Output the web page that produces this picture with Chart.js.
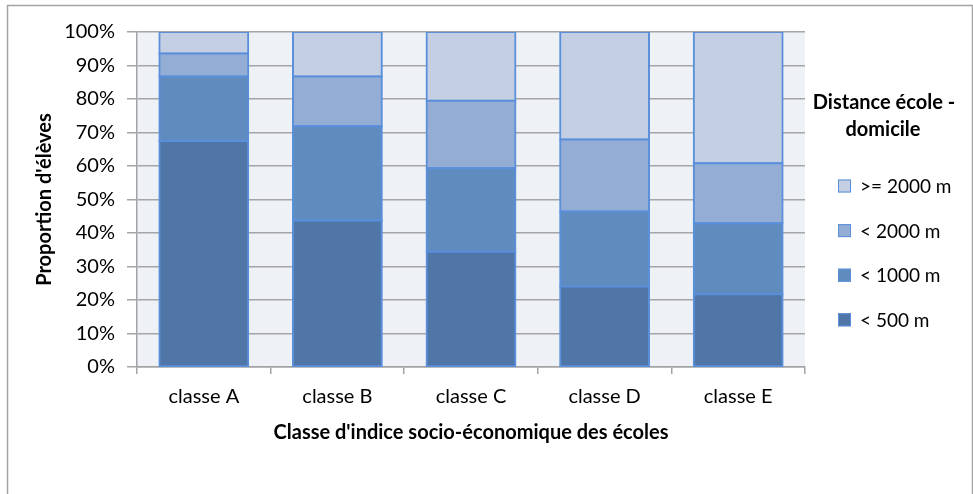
<!doctype html>
<html lang="fr">
  <head>
    <meta charset="UTF-8" />
    <title>Distance école - domicile</title>
    <script src="https://cdn.jsdelivr.net/npm/chart.js"></script>
    <style>
      html, body { margin: 0; padding: 0; background: #fff; }
      #wrap { position: relative; width: 973px; height: 494px; }
    </style>
  </head>
  <body>
    <div id="wrap"><canvas id="chart"></canvas></div>
    <script>
      const categories = ["classe A", "classe B", "classe C", "classe D", "classe E"];
      const under500 = [67.5, 43.7, 34.4, 24.0, 21.7];
      const under1000 = [19.2, 28.2, 24.9, 22.4, 21.2];
      const under2000 = [6.9, 14.8, 20.2, 21.5, 17.9];
      const over2000 = [6.4, 13.3, 20.5, 32.1, 39.2];
      const seriesLabels = ["< 500 m", "< 1000 m", "< 2000 m", ">= 2000 m"];
      const seriesColors = ["#4f76a6", "#5f8bbf", "#93add4", "#c4cfe3"];
      const legendTitle = ["Distance école -", "domicile"];

      const FONT = "Lato, 'Open Sans', sans-serif";
      const edge = "#5a8fdb";

      // plot background + outer frame
      const backdrop = {
        id: "backdrop",
        beforeDraw(chart) {
          const { ctx, chartArea: a } = chart;
          ctx.save();
          ctx.fillStyle = "#eef1f6";
          ctx.fillRect(a.left, a.top, a.right - a.left, a.bottom - a.top);
          ctx.strokeStyle = "#a3a3a3";
          ctx.lineWidth = 1.5;
          ctx.strokeRect(7.5, 5.5, 965, 520);
          ctx.restore();
        },
      };

      // legend on the right, series in reverse order
      const sideLegend = {
        id: "sideLegend",
        afterDraw(chart) {
          const ctx = chart.ctx;
          ctx.save();
          ctx.fillStyle = "#000";
          ctx.font = "bold 20px " + FONT;
          ctx.textAlign = "center";
          ctx.textBaseline = "middle";
          ctx.fillText(legendTitle[0], 884, 103);
          ctx.fillText(legendTitle[1], 883, 130);
          ctx.font = "19px " + FONT;
          ctx.textAlign = "left";
          const sets = chart.data.datasets.slice().reverse();
          sets.forEach((ds, i) => {
            const y = 186 + i * 44.6;
            ctx.fillStyle = ds.backgroundColor;
            ctx.fillRect(838, y - 6.5, 13, 13);
            ctx.strokeStyle = edge;
            ctx.lineWidth = 1;
            ctx.strokeRect(838.5, y - 6, 12, 12);
            ctx.fillStyle = "#000";
            ctx.fillText(ds.label, 860, y + 1);
          });
          ctx.restore();
        },
      };

      const values = [under500, under1000, under2000, over2000];
      const datasets = values.map((v, i) => ({
        label: seriesLabels[i],
        data: v,
        backgroundColor: seriesColors[i],
        borderColor: edge,
        borderWidth: 2,
        borderSkipped: false,
        inflateAmount: 1,
        categoryPercentage: 1,
        barPercentage: 0.665,
      }));

      Chart.defaults.font.family = FONT;
      Chart.defaults.color = "#000";

      new Chart(document.getElementById("chart"), {
        type: "bar",
        data: { labels: categories, datasets: datasets },
        options: {
          responsive: true,
          maintainAspectRatio: false,
          animation: false,
          layout: { padding: { top: 32, right: 168, bottom: 0, left: 0 } },
          plugins: {
            legend: { display: false },
            tooltip: { enabled: false },
          },
          scales: {
            x: {
              stacked: true,
              afterFit(scale) { scale.height = 127; },
              grid: {
                display: true,
                drawOnChartArea: false,
                tickLength: 7,
                color: "#a3a3a3",
                lineWidth: 1.5,
              },
              border: { color: "#a3a3a3", width: 1.5 },
              ticks: { font: { size: 20 }, padding: 11 },
              title: {
                display: true,
                text: "Classe d'indice socio-économique des écoles",
                font: { size: 20, weight: "bold" },
                padding: { top: 0, bottom: 49 },
              },
            },
            y: {
              stacked: true,
              min: 0,
              max: 100,
              afterFit(scale) { scale.width = 137; },
              grid: { color: "#a5a5a5", lineWidth: 1.5, tickLength: 10 },
              border: { color: "#a3a3a3", width: 1.5 },
              ticks: {
                stepSize: 10,
                padding: 12,
                font: { size: 20 },
                callback: (v) => v + "%",
              },
              title: {
                display: true,
                text: "Proportion d'élèves",
                font: { size: 20, weight: "bold" },
                padding: { top: 33, bottom: 0 },
              },
            },
          },
        },
        plugins: [backdrop, sideLegend],
      });
    </script>
  </body>
</html>
